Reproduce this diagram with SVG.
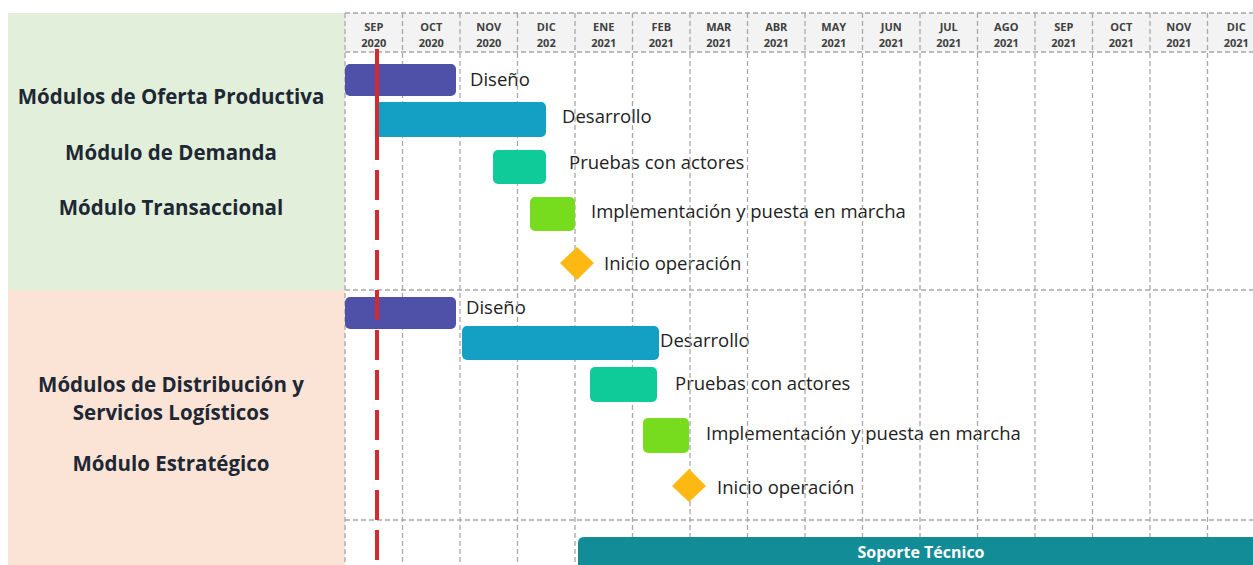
<svg xmlns="http://www.w3.org/2000/svg" width="1253" height="565" viewBox="0 0 1253 565">
<defs>
<style>
.grid{stroke:#a8a8a8;stroke-width:1.3;stroke-dasharray:5 3;fill:none}
.mh{font-family:"Open Sans","Liberation Sans",sans-serif;font-weight:700;font-size:11px;fill:#404040;text-anchor:middle}
.side{font-family:"Open Sans","Liberation Sans",sans-serif;font-weight:700;font-size:20.5px;fill:#1e2835;text-anchor:middle}
.lbl{font-family:"Open Sans","Liberation Sans",sans-serif;font-size:18.5px;fill:#222}
.dis{fill:#4f50a7}
.des{fill:#14a0c4}
.pru{fill:#0fcb9a}
.imp{fill:#78dc1e}
.ini{fill:#fdb812}
</style>
</defs>
<rect x="0" y="0" width="1253" height="565" fill="#ffffff"/>
<g id="panels">
<rect x="8" y="13" width="337" height="277" fill="#e2efda"/>
<rect x="8" y="290" width="337" height="275" fill="#fbe4d6"/>
<rect x="345" y="13" width="908" height="39" fill="#f3f3f3"/>
</g>
<g id="side-labels">
<text class="side" x="171" y="104">Módulos de Oferta Productiva</text>
<text class="side" x="171" y="160">Módulo de Demanda</text>
<text class="side" x="171" y="215">Módulo Transaccional</text>
<text class="side" x="171" y="392">Módulos de Distribución y</text>
<text class="side" x="171" y="420">Servicios Logísticos</text>
<text class="side" x="171" y="471">Módulo Estratégico</text>
</g>
<g id="header">
<text class="mh" x="373.75" y="31">SEP</text><text class="mh" x="373.75" y="47">2020</text>
<text class="mh" x="431.25" y="31">OCT</text><text class="mh" x="431.25" y="47">2020</text>
<text class="mh" x="488.75" y="31">NOV</text><text class="mh" x="488.75" y="47">2020</text>
<text class="mh" x="546.25" y="31">DIC</text><text class="mh" x="546.25" y="47">202</text>
<text class="mh" x="603.75" y="31">ENE</text><text class="mh" x="603.75" y="47">2021</text>
<text class="mh" x="661.25" y="31">FEB</text><text class="mh" x="661.25" y="47">2021</text>
<text class="mh" x="718.75" y="31">MAR</text><text class="mh" x="718.75" y="47">2021</text>
<text class="mh" x="776.25" y="31">ABR</text><text class="mh" x="776.25" y="47">2021</text>
<text class="mh" x="833.75" y="31">MAY</text><text class="mh" x="833.75" y="47">2021</text>
<text class="mh" x="891.25" y="31">JUN</text><text class="mh" x="891.25" y="47">2021</text>
<text class="mh" x="948.75" y="31">JUL</text><text class="mh" x="948.75" y="47">2021</text>
<text class="mh" x="1006.25" y="31">AGO</text><text class="mh" x="1006.25" y="47">2021</text>
<text class="mh" x="1063.75" y="31">SEP</text><text class="mh" x="1063.75" y="47">2021</text>
<text class="mh" x="1121.25" y="31">OCT</text><text class="mh" x="1121.25" y="47">2021</text>
<text class="mh" x="1178.75" y="31">NOV</text><text class="mh" x="1178.75" y="47">2021</text>
<text class="mh" x="1236.25" y="31">DIC</text><text class="mh" x="1236.25" y="47">2021</text>
</g>
<g id="task-labels">
<text class="lbl" x="470" y="86">Diseño</text>
<text class="lbl" x="562" y="123">Desarrollo</text>
<text class="lbl" x="569" y="169">Pruebas con actores</text>
<text class="lbl" x="591" y="218">Implementación y puesta en marcha</text>
<text class="lbl" x="604" y="270">Inicio operación</text>
<text class="lbl" x="466" y="314">Diseño</text>
<text class="lbl" x="660" y="347">Desarrollo</text>
<text class="lbl" x="675" y="390">Pruebas con actores</text>
<text class="lbl" x="706" y="440">Implementación y puesta en marcha</text>
<text class="lbl" x="717" y="494">Inicio operación</text>
</g>
<g id="grid">
<path class="grid" d="M345 13H1253M345 52H1253M345 290H1253M345 520H1253"/>
<path class="grid" d="M345 13V565M402.5 13V565M460 13V565M517.5 13V565M575 13V565M632.5 13V565M690 13V565M747.5 13V565M805 13V565M862.5 13V565M920 13V565M977.5 13V565M1035 13V565M1092.5 13V565M1150 13V565M1207.5 13V565"/>
</g>
<g id="group1">
<rect id="g1-diseno" class="dis" x="345" y="64" width="111" height="32" rx="5"/>
<rect id="g1-desarrollo" class="des" x="375" y="102" width="171" height="35" rx="5"/>
<rect id="g1-pruebas" class="pru" x="493" y="150" width="53" height="34" rx="5"/>
<rect id="g1-implementacion" class="imp" x="530" y="197" width="45" height="34" rx="5"/>
<polygon id="g1-inicio" class="ini" points="577,247 594,263 577,280 560,263"/>
</g>
<g id="group2">
<rect id="g2-diseno" class="dis" x="345" y="297" width="111" height="32" rx="5"/>
<rect id="g2-desarrollo" class="des" x="462" y="326" width="197" height="34" rx="5"/>
<rect id="g2-pruebas" class="pru" x="590" y="367" width="67" height="35" rx="5"/>
<rect id="g2-implementacion" class="imp" x="643" y="418" width="46" height="35" rx="5"/>
<polygon id="g2-inicio" class="ini" points="689,469 706,486 689,502 672,486"/>
</g>
<g id="soporte">
<path d="M584 537H1253V565H578V543Q578 537 584 537Z" fill="#128c97"/>
<text x="921" y="558" font-family="'Open Sans','Liberation Sans',sans-serif" font-weight="700" font-size="16" fill="#ffffff" text-anchor="middle">Soporte Técnico</text>
</g>
<g id="today-marker" stroke="#d42a2f" stroke-width="4" fill="none">
<line x1="377" y1="49" x2="377" y2="160"/>
<line x1="377" y1="170" x2="377" y2="565" stroke-dasharray="30 10"/>
</g>
</svg>
